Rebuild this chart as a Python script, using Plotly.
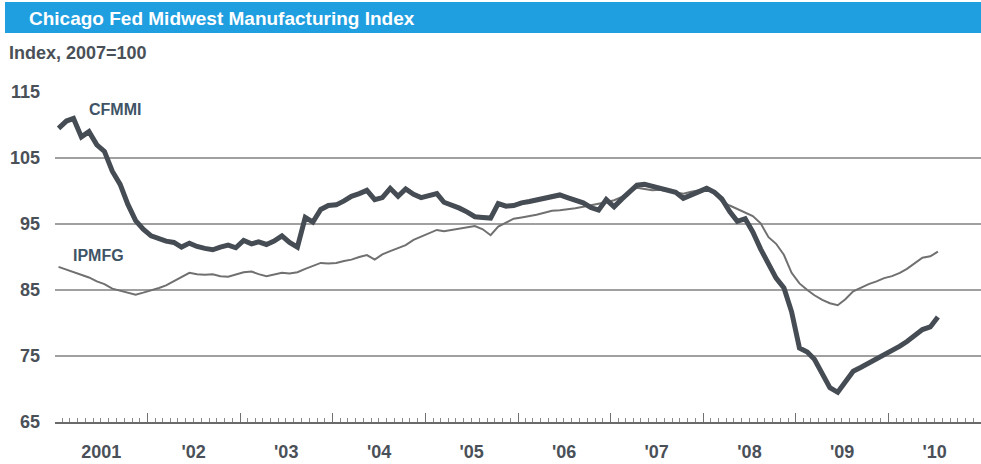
import plotly.graph_objects as go
import pandas as pd

# ---- data (monthly, Jan 2001 .. Jul 2010), Index 2007=100 ----
start_month = "2001-01-01"
n_months = 115
cfmmi = [
    109.5, 110.6, 111.0, 108.2, 109.0, 107.0, 106.0, 103.0, 101.0, 98.0, 95.5, 94.2,
    93.2, 92.7, 92.4, 92.2, 91.5, 92.1, 91.6, 91.3, 91.1, 91.5, 91.8, 91.4,
    92.5, 92.0, 92.3, 91.9, 92.4, 93.2, 92.2, 91.5, 96.0, 95.3, 97.2, 97.8,
    97.9, 98.5, 99.2, 99.6, 100.1, 98.7, 99.0, 100.4, 99.2, 100.3, 99.5, 99.0,
    99.3, 99.6, 98.3, 97.9, 97.4, 96.8, 96.1, 96.0, 95.9, 98.1, 97.7, 97.8,
    98.2, 98.4, 98.6, 98.9, 99.2, 99.4, 99.0, 98.6, 98.2, 97.5, 97.1, 98.7,
    97.6, 98.8, 99.9, 100.9, 101.0, 100.7, 100.4, 100.2, 99.8, 98.9, 99.4, 99.8,
    100.4, 99.8, 98.8, 96.9, 95.4, 95.8, 93.8, 91.2, 88.8, 86.8, 85.3, 81.7,
    76.2, 75.6, 74.5, 72.5, 70.2, 69.5, 71.2, 72.7, 73.3, 73.9, 74.6, 75.3,
    75.8, 76.5, 77.2, 78.1, 79.0, 79.4, 80.9,
]
ipmfg = [
    88.5, 88.1, 87.7, 87.3, 86.9, 86.3, 85.9, 85.2, 84.9, 84.5, 84.3, 84.6,
    84.9, 85.3, 85.7, 86.3, 87.0, 87.6, 87.4, 87.3, 87.4, 87.1, 87.0, 87.4,
    87.7, 87.8, 87.4, 87.1, 87.3, 87.6, 87.5, 87.7, 88.2, 88.7, 89.1, 89.0,
    89.1, 89.4, 89.6, 90.0, 90.3, 89.6, 90.4, 90.9, 91.3, 91.8, 92.6, 93.1,
    93.7, 94.1, 93.9, 94.1, 94.3, 94.5, 94.7, 94.2, 93.3, 94.6, 95.2, 95.8,
    96.0, 96.2, 96.4, 96.7, 97.0, 97.1, 97.2, 97.4, 97.6, 97.8, 98.0, 98.3,
    98.6, 99.1, 99.8, 100.5, 100.3, 100.1, 100.2, 100.0, 99.8, 99.6, 99.9, 100.1,
    100.3, 99.6, 98.4, 97.8, 97.3, 96.8, 96.2, 95.1, 93.0, 92.0, 90.3, 87.6,
    86.0, 85.0, 84.2, 83.5, 83.0, 82.7, 83.6, 84.8, 85.4, 85.9, 86.3, 86.8,
    87.1, 87.6, 88.2, 89.0, 89.9, 90.1, 90.8,
]
year_labels = ["2001", "'02", "'03", "'04", "'05", "'06", "'07", "'08", "'09", "'10"]
years = list(range(2001, 2011))
y_ticks = [65, 75, 85, 95, 105, 115]

title_text = "Chicago Fed Midwest Manufacturing Index"
subtitle_text = "Index, 2007=100"

# ---- geometry ----
W, H = 981, 464
L, R, T, B = 55, 0, 92, 42


def px_x(x):
    return (x - L) / (W - L - R)


def px_y(y):
    return (H - B - y) / (H - T - B)


dates = pd.date_range(start_month, periods=n_months, freq="MS") + pd.Timedelta(days=14)
mid_year = [f"{y}-07-02" for y in years]
x_range = ["2001-01-01", "2011-01-01"]

FONT = "Liberation Sans, Arial, Helvetica, sans-serif"
TXT = "#4a5058"

fig = go.Figure()
fig.add_trace(go.Scatter(x=dates, y=ipmfg, mode="lines", name="IPMFG",
                         line=dict(color="#707070", width=2), showlegend=False, hoverinfo="skip"))
fig.add_trace(go.Scatter(x=dates, y=cfmmi, mode="lines", name="CFMMI",
                         line=dict(color="#464c54", width=5), showlegend=False, hoverinfo="skip"))
# invisible trace to carry the label axis
fig.add_trace(go.Scatter(x=x_range, y=[65, 65], xaxis="x2", mode="lines",
                         line=dict(width=0), opacity=0, showlegend=False, hoverinfo="skip"))

fig.update_layout(
    width=W, height=H,
    margin=dict(l=L, r=R, t=T, b=B),
    paper_bgcolor="white", plot_bgcolor="white",
    font=dict(family=FONT, color=TXT),
    xaxis=dict(
        type="date", range=x_range,
        tickmode="linear", tick0="2001-01-01", dtick="M12",
        showticklabels=False, ticks="inside", ticklen=9, tickwidth=1.2, tickcolor="#707070",
        showgrid=False, zeroline=False,
        showline=True, linecolor="#6a6a6a", linewidth=1.5,
        minor=dict(ticks="inside", dtick="M1", tick0="2001-01-01", ticklen=4,
                   tickwidth=1, tickcolor="#8a8a8a", showgrid=False),
        fixedrange=True,
    ),
    xaxis2=dict(
        type="date", range=x_range, overlaying="x", anchor="y", side="bottom",
        tickmode="array", tickvals=mid_year, ticktext=year_labels,
        ticks="", showgrid=False, zeroline=False, showline=False,
        tickfont=dict(size=18, color=TXT, family=FONT, weight="bold"),
        ticklabelstandoff=17, fixedrange=True,
    ),
    yaxis=dict(
        range=[65, 115], tickmode="array", tickvals=y_ticks,
        showgrid=True, gridcolor="#a0a0a0", gridwidth=1.6,
        zeroline=False, showline=False, ticks="",
        tickfont=dict(size=18, color=TXT, family=FONT, weight="bold"),
        ticklabelstandoff=14, fixedrange=True,
    ),
)

# title bar
fig.add_shape(type="rect", xref="paper", yref="paper",
              x0=px_x(5), x1=px_x(981), y0=px_y(33), y1=px_y(2),
              fillcolor="#1f9ee0", line=dict(width=0), layer="below")
fig.add_annotation(xref="paper", yref="paper", x=px_x(27), y=px_y(18),
                   xanchor="left", yanchor="middle", text=title_text, showarrow=False,
                   font=dict(size=19, color="white", family=FONT, weight="bold"))
fig.add_annotation(xref="paper", yref="paper", x=px_x(7), y=px_y(53),
                   xanchor="left", yanchor="middle", text=subtitle_text, showarrow=False,
                   font=dict(size=18, color=TXT, family=FONT, weight="bold"))

# series labels
fig.add_annotation(x="2001-08-24", y=112.3, text="CFMMI", showarrow=False,
                   xanchor="center", yanchor="middle",
                   font=dict(size=16, color="#3f5466", family=FONT, weight="bold"))
fig.add_annotation(x="2001-06-23", y=90.3, text="IPMFG", showarrow=False,
                   xanchor="center", yanchor="middle",
                   font=dict(size=16, color="#3f5466", family=FONT, weight="bold"))

fig.write_html("out.html")
